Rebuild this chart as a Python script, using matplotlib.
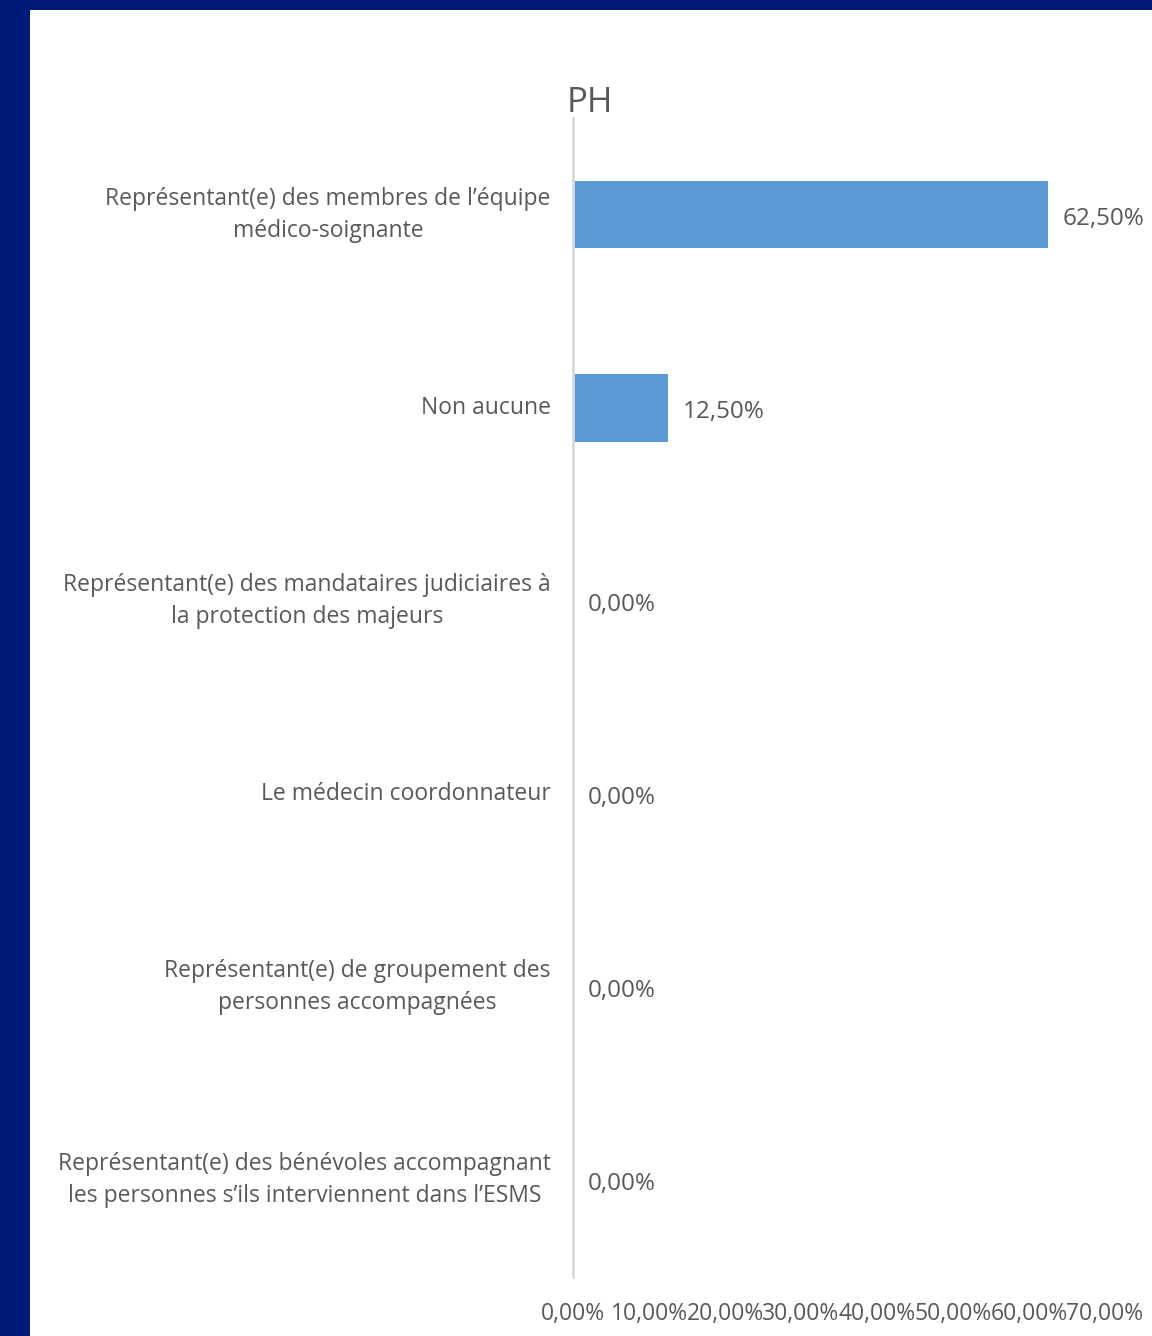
import matplotlib.pyplot as plt
from matplotlib.patches import Rectangle

categories = [
    "Représentant(e) des membres de l\u2019équipe\nmédico-soignante",
    "Non aucune",
    "Représentant(e) des mandataires judiciaires à\nla protection des majeurs",
    "Le médecin coordonnateur",
    "Représentant(e) de groupement des\npersonnes accompagnées",
    "Représentant(e) des bénévoles accompagnant\nles personnes s\u2019ils interviennent dans l\u2019ESMS",
]
values = [62.5, 12.5, 0.0, 0.0, 0.0, 0.0]
xticks = [0, 10, 20, 30, 40, 50, 60, 70]

plt.rcParams['font.family'] = ['Open Sans', 'DejaVu Sans']
grey = '#595959'

fig = plt.figure(figsize=(11.52, 13.36), dpi=100)
fig.patch.set_facecolor('#001A78')
fig.patches.append(Rectangle((30 / 1152, 0), 1, 1 - 10 / 1336, transform=fig.transFigure,
                             facecolor='white', edgecolor='none', zorder=-10))

ax = fig.add_axes([573 / 1152, 1 - 1277 / 1336, 532 / 1152, (1277 - 118) / 1336])
ax.set_facecolor('none')

y = list(range(len(categories)))
ax.barh(y, values, height=0.35, color='#5B9BD5', zorder=2)
ax.set_ylim(len(categories) - 0.5, -0.5)
ax.set_xlim(0, 70)

for yi, v in zip(y, values):
    ax.annotate(f"{v:.2f}%".replace('.', ','), (v, yi), xytext=(15, -4), textcoords='offset pixels',
                va='center', ha='left', fontsize=17.5, color=grey)

ax.set_yticks(y)
ax.set_yticklabels(categories, fontsize=16.5, color=grey)
for lab in ax.get_yticklabels():
    lab.set_multialignment('center')
    lab.set_linespacing(1.45)
    lab.set_verticalalignment('center')
ax.set_xticks(xticks)
ax.set_xticklabels([f"{t:.2f}%".replace('.', ',') for t in xticks], fontsize=16.5, color=grey)
ax.tick_params(axis='y', length=0, pad=16)
ax.tick_params(axis='x', length=0, pad=18)

for s in ['top', 'right', 'bottom']:
    ax.spines[s].set_visible(False)
ax.spines['left'].set_color('#D9D9D9')
ax.spines['left'].set_linewidth(2)

fig.text(590 / 1152, 1 - 103 / 1336, "PH", fontsize=25, color=grey, ha='center', va='center')

fig.savefig('out.png', dpi=100, facecolor=fig.get_facecolor())
